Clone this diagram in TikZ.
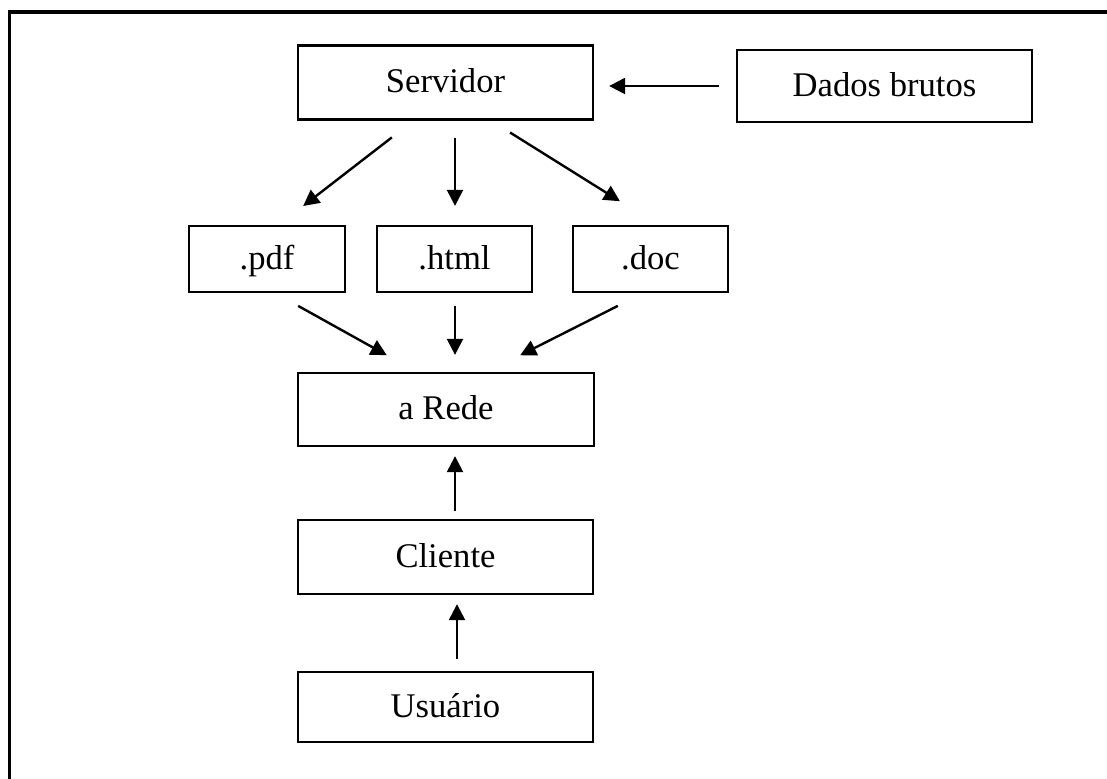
\documentclass[tikz,border=0pt]{standalone}
\usepackage{fontspec}
\setmainfont{Liberation Serif}
\usetikzlibrary{arrows.meta}

\tikzset{
  caixa/.style={draw, line width=1.15pt, inner sep=0pt, text height=11.5pt, text depth=1.5pt,
    minimum width=147.5pt, minimum height=37pt},
  formato/.style={caixa, minimum width=78pt, minimum height=33pt},
  seta/.style={-{Triangle[length=8pt,width=8pt]}, line width=1.2pt},
}

\begin{document}
\begin{tikzpicture}[x=0.5pt, y=-0.5pt, font=\fontsize{17.3}{20}\selectfont]
    \clip (0,0) rectangle (1107,778);
    \draw[line width=1.6pt] (9.5,800) -- (9.5,12) -- (1120,12);
    % caixas
    \node[caixa] (servidor) at (445.5,82.5) {Servidor};
    \node[caixa, minimum height=36pt] (dados) at (884.5,86) {Dados brutos};
    \node[formato] (pdf) at (267,259) {.pdf};
    \node[formato, minimum width=77.5pt] (html) at (454.5,259) {.html};
    \node[formato, minimum width=77.5pt] (doc) at (650.5,259) {.doc};
    \node[caixa, minimum width=148pt, minimum height=36.5pt] (rede) at (446,409.5) {a Rede};
    \node[caixa] (cliente) at (445.5,557) {Cliente};
    \node[caixa, minimum height=35pt] (usuario) at (445.5,707) {Usuário};
    % setas
    \draw[seta, shorten <=8.5pt, shorten >=7.5pt] (dados.west) -- (dados.west -| servidor.east);
    \draw[seta, shorten <=13.7pt, shorten >=15.4pt] ([xshift=-16pt]servidor.south) -- ([xshift=5.9pt]pdf.north);
    \draw[seta, shorten <=8.5pt, shorten >=9.5pt] ([xshift=4.75pt]servidor.south) -- ([xshift=0.25pt]html.north);
    \draw[seta, shorten <=11.2pt, shorten >=22.3pt] ([xshift=22.8pt]servidor.south) -- ([xshift=3.6pt]doc.north);
    \draw[seta, shorten <=13.1pt, shorten >=17.1pt] ([xshift=4.15pt]pdf.south) -- ([xshift=-14.65pt]rede.north);
    \draw[seta, shorten <=6.5pt, shorten >=8.5pt] ([xshift=0.25pt]html.south) -- ([xshift=4.5pt]rede.north);
    \draw[seta, shorten <=14.1pt, shorten >=18.4pt] ([xshift=-3.75pt]doc.south) -- ([xshift=20.65pt]rede.north);
    \draw[seta, shorten <=4pt, shorten >=4.5pt] ([xshift=4.75pt]cliente.north) -- ([xshift=4.5pt]rede.south);
    \draw[seta, shorten <=6pt, shorten >=4.5pt] ([xshift=5.75pt]usuario.north) -- ([xshift=5.75pt]cliente.south);
\end{tikzpicture}
\end{document}
